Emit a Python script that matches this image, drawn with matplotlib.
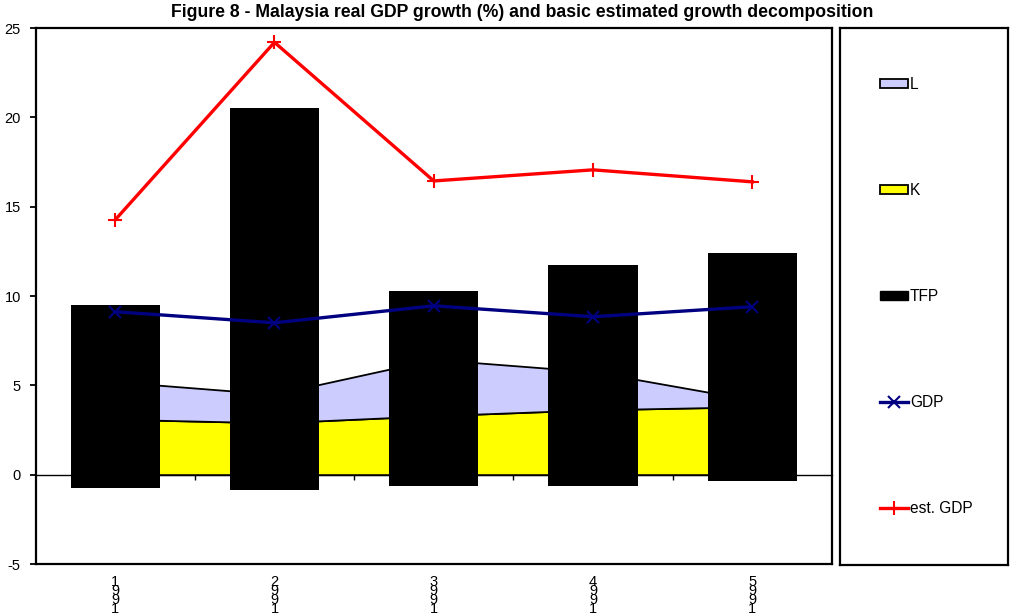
import numpy as np
import matplotlib
matplotlib.use("Agg")
import matplotlib.pyplot as plt
from matplotlib.patches import Patch
from matplotlib.lines import Line2D

plt.rcParams['font.family'] = ['Liberation Sans', 'DejaVu Sans']
plt.rcParams['axes.unicode_minus'] = False

# data
periods = ['1991', '2991', '3991', '4991', '5991']
k_contrib = [3.1, 2.9, 3.3, 3.63, 3.8]
l_contrib = [2.1, 1.6, 3.15, 2.13, 0.38]
tfp_low = [-0.74, -0.84, -0.62, -0.65, -0.34]
tfp_high = [9.5, 20.5, 10.3, 11.75, 12.4]
gdp = [9.12, 8.5, 9.45, 8.84, 9.4]
est_gdp = [14.26, 24.2, 16.44, 17.06, 16.39]

x = np.arange(1, len(periods) + 1)

fig = plt.figure(figsize=(10.1, 6.16), dpi=100)
ax = fig.add_axes([35.5 / 1010, 1 - 564 / 616, (832 - 35.5) / 1010, (564 - 28) / 616])

# stacked areas K and L
ax.stackplot(x, k_contrib, l_contrib, colors=['#FFFF00', '#CCCCFF'],
             edgecolor='black', linewidth=1.3, zorder=1)

# TFP floating bars
heights = np.array(tfp_high) - np.array(tfp_low)
ax.bar(x, heights, bottom=tfp_low, width=0.56, color='black', zorder=2)

# lines
ax.plot(x, gdp, color='#000080', lw=2.4, marker='x', ms=8, mew=1.5, zorder=4)
ax.plot(x, est_gdp, color='#FF0000', lw=2.4, marker='+', ms=10, mew=1.5, zorder=4)

ax.set_xlim(0.5, 5.5)
ax.set_ylim(-5, 25)
ax.set_yticks(np.arange(-5, 26, 5))
ax.tick_params(axis='y', direction='out', length=4.3, width=1.3, labelsize=10.5, pad=6.3)

# x axis drawn at zero with tick marks between categories
ax.spines['bottom'].set_position(('data', 0))
ax.spines['bottom'].set_linewidth(1.0)
ax.set_xticks(x[:-1] + 0.5)
ax.set_xticklabels([])
ax.tick_params(axis='x', direction='out', length=3.6, width=1)
ax.axhline(-5, color='black', lw=1.6, clip_on=False, zorder=5)
for s in ['left', 'top', 'right']:
    ax.spines[s].set_linewidth(1.6)

sec = ax.secondary_xaxis(0.0)
sec.set_xticks(x)
sec.set_xticklabels(['\n'.join(p) for p in periods], fontsize=10.5, linespacing=0.55,
                    va='top')
sec.tick_params(length=0, pad=8)
sec.spines['bottom'].set_visible(False)

fig.text(522 / 1010, 1 - 17 / 616,
         'Figure 8 - Malaysia real GDP growth (%) and basic estimated growth decomposition',
         ha='center', va='baseline', fontsize=12.7, fontweight='bold')

# legend in its own framed box
lax = fig.add_axes([840 / 1010, 1 - 565 / 616, (1008 - 840) / 1010, (565 - 28) / 616])
lax.set_xticks([])
lax.set_yticks([])
for s in lax.spines.values():
    s.set_linewidth(1.6)
handles = [
    Patch(facecolor='#CCCCFF', edgecolor='black', lw=1.3),
    Patch(facecolor='#FFFF00', edgecolor='black', lw=1.3),
    Patch(facecolor='black', edgecolor='black'),
    Line2D([], [], color='#000080', lw=2.4, marker='x', ms=8, mew=1.5),
    Line2D([], [], color='#FF0000', lw=2.4, marker='+', ms=10, mew=1.5),
]
labels = ['L', 'K', 'TFP', 'GDP', 'est. GDP']
lax.legend(handles, labels, loc='center left', bbox_to_anchor=(0.19, 0.5), frameon=False,
           fontsize=11.2, labelspacing=5.85, handlelength=1.85, handletextpad=0.1,
           handleheight=0.45, borderpad=0)

fig.savefig('out.png', dpi=100)
